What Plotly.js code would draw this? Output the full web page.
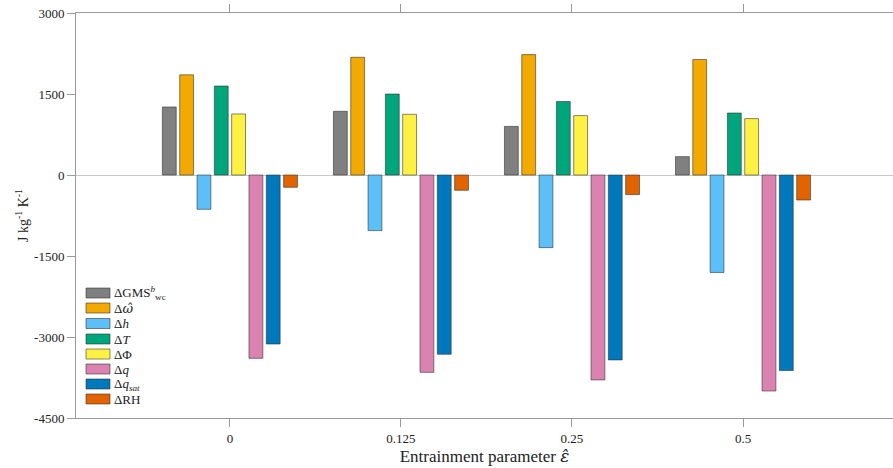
<!DOCTYPE html>
<html>
<head>
<meta charset="utf-8">
<script src="https://cdn.plot.ly/plotly-3.0.1.min.js"></script>
<style>
  html, body { margin: 0; padding: 0; background: #fff; }
  #chart { width: 893px; height: 468px; }
</style>
</head>
<body>
<div id="chart"></div>
<script>
// Entrainment parameter values (x categories)
const epsilonLabels = ['0', '0.125', '0.25', '0.5'];

// Budget terms, J kg^-1 K^-1
const dGMS  = [1260, 1180, 900, 340];
const dOmega = [1855, 2180, 2230, 2140];
const dH    = [-635, -1030, -1345, -1805];
const dT    = [1648, 1500, 1360, 1148];
const dPhi  = [1130, 1124, 1100, 1044];
const dQ    = [-3395, -3655, -3795, -4000];
const dQsat = [-3130, -3320, -3425, -3620];
const dRH   = [-228, -283, -363, -463];

// Hatted symbols are set in DejaVu Serif, which places combining accents well
const HAT = s => '<span style="font-family:\'DejaVu Serif\'"><i>' + s + '\u0302</i></span>';

const seriesNames = [
  'ΔGMS<sup><i>b</i></sup><sub>wc</sub>',
  'Δ' + HAT('ω'),
  'Δ<i>h</i>',
  'Δ<i>T</i>',
  'ΔΦ',
  'Δ<i>q</i>',
  'Δ<i>q</i><sub><i>sat</i></sub>',
  'ΔRH'
];
const seriesColors = ['#808080', '#F2A900', '#5CBFF8', '#00A67B', '#FFF143', '#DA82B0', '#0078BC', '#E16400'];
const seriesValues = [dGMS, dOmega, dH, dT, dPhi, dQ, dQsat, dRH];

const yTicks = [-4500, -3000, -1500, 0, 1500, 3000];

const FONT = 'Liberation Serif, Times New Roman, serif';

const traces = seriesValues.map((vals, i) => ({
  type: 'bar',
  name: seriesNames[i],
  x: epsilonLabels,
  y: vals,
  marker: { color: seriesColors[i], line: { color: 'rgba(40,40,40,0.55)', width: 1 } },
  showlegend: false,
  hoverinfo: 'skip'
}));

// Plot-area geometry in pixels (used to place the hand-drawn key)
const L = 76, R = 893, T = 13, B = 418;
const W = R - L, H = B - T;
const px = v => (v - L) / W;
const py = v => (B - v) / H;

const keyTops = [288, 303, 318.5, 334, 349, 364, 379, 394];
const shapes = [];
const annotations = [];
seriesNames.forEach((name, i) => {
  const top = keyTops[i];
  shapes.push({
    type: 'rect', xref: 'paper', yref: 'paper',
    x0: px(86), x1: px(110), y0: py(top + 10), y1: py(top),
    fillcolor: seriesColors[i],
    line: { color: 'rgba(40,40,40,0.55)', width: 1 }
  });
  annotations.push({
    xref: 'paper', yref: 'paper', x: px(112), y: py(top + 5),
    xanchor: 'left', yanchor: 'middle', showarrow: false,
    text: name, font: { family: FONT, size: 13, color: '#222' }
  });
});

const layout = {
  width: 893, height: 468,
  margin: { l: L, r: 893 - R, t: T, b: 468 - B, pad: 0 },
  paper_bgcolor: '#fff', plot_bgcolor: '#fff',
  barmode: 'group', bargap: 0.19, bargroupgap: 0.2,
  font: { family: FONT, size: 13, color: '#222' },
  xaxis: {
    type: 'category',
    range: [-0.9, 3.877],
    showgrid: false, zeroline: false,
    showline: true, linecolor: '#9a9a9a', linewidth: 1,
    mirror: 'ticks',
    ticks: 'outside', ticklen: 8, tickcolor: '#9a9a9a', tickwidth: 1,
    tickfont: { family: FONT, size: 13, color: '#222' },
    title: { text: 'Entrainment parameter ' + HAT('ε'), font: { family: FONT, size: 17, color: '#222' }, standoff: 2 }
  },
  yaxis: {
    range: [-4500, 3000],
    tickvals: yTicks, ticktext: yTicks.map(String),
    showgrid: false,
    zeroline: true, zerolinecolor: '#c8c8c8', zerolinewidth: 1,
    showline: true, linecolor: '#9a9a9a', linewidth: 1,
    ticks: 'outside', ticklen: 8, tickcolor: '#9a9a9a', tickwidth: 1,
    tickfont: { family: FONT, size: 13, color: '#222' },
    title: { text: 'J kg<sup>-1</sup> K<sup>-1</sup>', font: { family: FONT, size: 14, color: '#222' }, standoff: 2 }
  },
  shapes: shapes,
  annotations: annotations,
  showlegend: false
};

Plotly.newPlot('chart', traces, layout, { staticPlot: true, displayModeBar: false });
</script>
</body>
</html>
